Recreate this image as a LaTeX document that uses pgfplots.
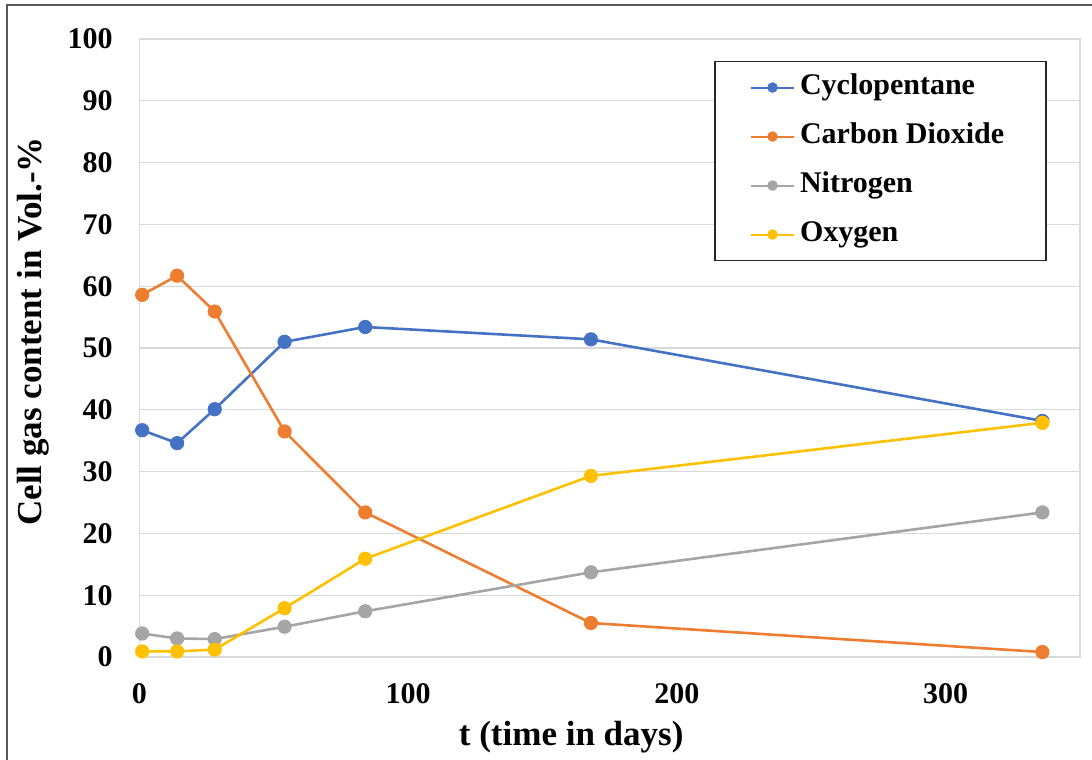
\documentclass[border=0pt]{standalone}
\usepackage{pgfplots}
\pgfplotsset{compat=1.18}
\usepackage{fontspec}
\setmainfont{Liberation Serif}
\definecolor{cblue}{HTML}{4472C4}
\definecolor{corange}{HTML}{ED7D31}
\definecolor{cgray}{HTML}{A5A5A5}
\definecolor{cyellow}{HTML}{FFC000}
\definecolor{gridc}{HTML}{D9D9D9}
\definecolor{framec}{HTML}{595959}
\begin{document}
\begin{tikzpicture}[x=1pt,y=1pt]
\useasboundingbox (-69.75,-51.5) rectangle (476.25,328.5);
\draw[framec,line width=0.8pt] (-66.25,-51.5) -- (-66.25,326) -- (476.25,326);
\begin{axis}[
  at={(0,0)}, anchor=origin,
  scale only axis, width=470.25pt, height=309pt,
  xmin=0, xmax=350, ymin=0, ymax=100,
  xtick={0,100,200,300}, ytick={0,10,...,100},
  major tick length=0pt,
  ymajorgrids, grid style={gridc, line width=0.6pt},
  axis line style={gridc, line width=0.6pt},
  /pgf/number format/assume math mode=true,
  tick label style={font=\bfseries\fontsize{15}{15}\selectfont, inner sep=0pt},
  yticklabel style={anchor=east, xshift=-13.25pt},
  xticklabel style={anchor=north, yshift=-13pt},
  xlabel={t (time in days)},
  ylabel={Cell gas content in Vol.-\%},
  label style={font=\bfseries\fontsize{17.5}{17.5}\selectfont, inner sep=0pt},
  xlabel style={at={(axis description cs:0.459,0)}, anchor=base, yshift=-44pt},
  ylabel style={at={(axis description cs:-0.1037,0.527)}, rotate=0, anchor=base},
  legend cell align=left,
  legend image code/.code={\draw[mark repeat=2,mark phase=2,#1,line width=1pt,mark size=2.1pt] plot coordinates {(0pt,0pt) (10.75pt,0pt) (21.5pt,0pt)};},
  legend style={at={(0.611,0.965)}, anchor=north west, draw=black!85, line width=0.9pt, fill=white,
    inner xsep=17.5pt, inner ysep=5.5pt, row sep=9.5pt, column sep=2.5pt,
    font=\bfseries\fontsize{15}{15}\selectfont,
    nodes={inner sep=0pt, text height=11pt, text depth=4pt}},
]
\addplot[cblue, line width=1.3pt, mark=*, mark size=2.9pt] coordinates {
(1,36.7) (14,34.6) (28,40.1) (54,51.0) (84,53.4) (168,51.4) (336,38.2)};
\addlegendentry{Cyclopentane}
\addplot[corange, line width=1.3pt, mark=*, mark size=2.9pt] coordinates {
(1,58.6) (14,61.7) (28,55.9) (54,36.5) (84,23.4) (168,5.5) (336,0.8)};
\addlegendentry{Carbon Dioxide\rule{3.5pt}{0pt}}
\addplot[cgray, line width=1.3pt, mark=*, mark size=2.9pt] coordinates {
(1,3.8) (14,3.0) (28,2.9) (54,4.9) (84,7.4) (168,13.7) (336,23.4)};
\addlegendentry{Nitrogen}
\addplot[cyellow, line width=1.3pt, mark=*, mark size=2.9pt] coordinates {
(1,0.9) (14,0.9) (28,1.2) (54,7.9) (84,15.9) (168,29.3) (336,37.9)};
\addlegendentry{Oxygen}
\end{axis}
\end{tikzpicture}
\end{document}
